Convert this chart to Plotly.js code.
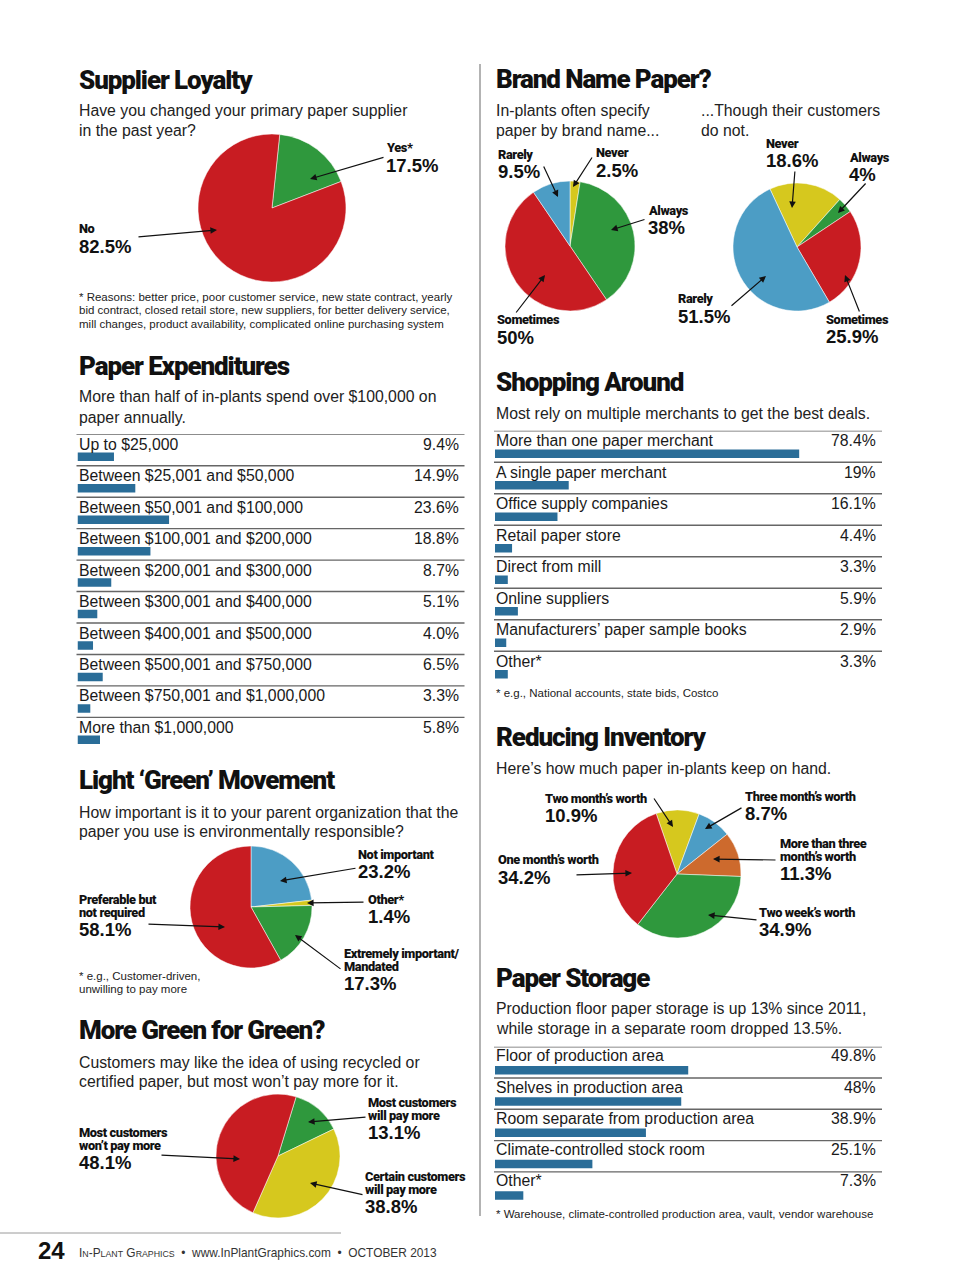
<!DOCTYPE html>
<html><head><meta charset="utf-8">
<script src="https://cdn.plot.ly/plotly-3.0.1.min.js"></script>
<style>html,body{margin:0;padding:0;background:#fff}</style>
</head><body><div id="chart" style="width:960px;height:1287px"></div>
<script>
// ---------------- DATA ----------------
const loyaltyLabels = ['Yes*', 'No'];
const loyaltyValues = [17.5, 82.5];

const brandLabels = ['Never', 'Always', 'Sometimes', 'Rarely'];
const brandInPlantValues = [2.5, 38, 50, 9.5];
const brandCustomerValues = [18.6, 4, 25.9, 51.5];

const expCategories = ['Up to $25,000', 'Between $25,001 and $50,000', 'Between $50,001 and $100,000',
  'Between $100,001 and $200,000', 'Between $200,001 and $300,000', 'Between $300,001 and $400,000',
  'Between $400,001 and $500,000', 'Between $500,001 and $750,000', 'Between $750,001 and $1,000,000',
  'More than $1,000,000'];
const expValues = [9.4, 14.9, 23.6, 18.8, 8.7, 5.1, 4.0, 6.5, 3.3, 5.8];
const expValueText = ['9.4%', '14.9%', '23.6%', '18.8%', '8.7%', '5.1%', '4.0%', '6.5%', '3.3%', '5.8%'];

const greenLabels = ['Not important', 'Other*', 'Extremely important/<br>Mandated', 'Preferable but<br>not required'];
const greenValues = [23.2, 1.4, 17.3, 58.1];

const payLabels = ['Most customers<br>will pay more', 'Certain customers<br>will pay more', 'Most customers<br>won\u2019t pay more'];
const payValues = [13.1, 38.8, 48.1];

const shopCategories = ['More than one paper merchant', 'A single paper merchant', 'Office supply companies',
  'Retail paper store', 'Direct from mill', 'Online suppliers', 'Manufacturers\u2019 paper sample books', 'Other*'];
const shopValues = [78.4, 19, 16.1, 4.4, 3.3, 5.9, 2.9, 3.3];
const shopValueText = ['78.4%', '19%', '16.1%', '4.4%', '3.3%', '5.9%', '2.9%', '3.3%'];

const invLabels = ['Two month\u2019s worth', 'Three month\u2019s worth', 'More than three<br>month\u2019s worth',
  'Two week\u2019s worth', 'One month\u2019s worth'];
const invValues = [10.9, 8.7, 11.3, 34.9, 34.2];

const storageCategories = ['Floor of production area', 'Shelves in production area',
  'Room separate from production area', 'Climate-controlled stock room', 'Other*'];
const storageValues = [49.8, 48, 38.9, 25.1, 7.3];
const storageValueText = ['49.8%', '48%', '38.9%', '25.1%', '7.3%'];

// ---------------- LAYOUT HELPERS ----------------
const W = 960, H = 1287;
const X = p => p / W;
const Y = p => 1 - p / H;

const RED = '#c81c22', GREEN = '#2f983d', BLUE = '#4c9dc5', YELLOW = '#d6c81e', ORANGE = '#cd6a2d';
const BAR = '#2a6d98';
const COND = 'Roboto, Liberation Sans, Arial, sans-serif';
const SANS = 'Liberation Sans, Arial, Helvetica, sans-serif';
const BODY = 15.8;

const traces = [];
const annotations = [];
const shapes = [];
const layout = {
  width: W, height: H, margin: {l: 0, r: 0, t: 0, b: 0},
  paper_bgcolor: '#ffffff', plot_bgcolor: 'rgba(0,0,0,0)', showlegend: false,
  annotations, shapes
};

function text(x, y, t, size, opts) {
  annotations.push(Object.assign({
    xref: 'paper', yref: 'paper', x: X(x), y: Y(y), text: t, showarrow: false,
    xanchor: 'left', yanchor: 'middle', borderpad: 0,
    font: {family: SANS, size: size, color: '#1a1a1a'}
  }, opts || {}));
}
function title(x, y, t) {
  text(x, y, '<span style="letter-spacing:-1.1px">' + t + '</span>', 26,
    {font: {family: COND, size: 26, color: '#111', weight: 900}});
}
function lines(x, y, arr, size, step) {
  arr.forEach((t, k) => text(x, y + k * step, t, size, {font: {family: SANS, size: size, color: '#222'}}));
}
function arrow(tail, head) {
  annotations.push({
    xref: 'paper', yref: 'paper', x: X(head[0]), y: Y(head[1]),
    ax: tail[0] - head[0], ay: tail[1] - head[1], text: '', showarrow: true,
    arrowhead: 2, arrowsize: 1.1, arrowwidth: 1.2, arrowcolor: '#111', standoff: 0, startstandoff: 0
  });
}
function pie(labels, values, colors, cx, cy, r, rotation, spec) {
  traces.push({
    type: 'pie', labels: labels, values: values, sort: false, direction: 'clockwise', rotation: rotation,
    marker: {colors: colors, line: {color: 'rgba(255,255,255,0.5)', width: 1}},
    textinfo: 'none', hoverinfo: 'label+value', showlegend: false,
    domain: {x: [X(cx - r), X(cx + r)], y: [Y(cy + r), Y(cy - r)]}
  });
  labels.forEach((lab, i) => {
    const s = spec[i];
    const ls = lab.split('<br>');
    ls.forEach((ln, k) => text(s[0], s[1] + k * 13.3, '<span style="letter-spacing:-0.4px">' + ln + '</span>', 12.8,
      {font: {family: COND, size: 12.8, color: '#111', weight: 900}}));
    text(s[0], s[1] + (ls.length - 1) * 13.3 + 17.5, values[i] + '%', 18.5,
      {font: {family: SANS, size: 18.5, color: '#111', weight: 'bold'}});
    arrow(s[2], s[3]);
  });
}
function barList(n, cats, vals, valText, left, top, pitch, barOff, labelOff) {
  const k = n === 1 ? '' : String(n);
  const cnt = cats.length;
  const idx = cats.map((c, i) => i);
  layout['xaxis' + k] = {domain: [X(left), X(left + 388)], range: [0, 100], anchor: 'y' + k,
    showgrid: false, zeroline: false, showticklabels: false, showline: false, ticks: '', fixedrange: true};
  layout['yaxis' + k] = {domain: [Y(top + cnt * pitch), Y(top)],
    range: [cnt - barOff / pitch, -barOff / pitch], anchor: 'x' + k,
    showgrid: false, zeroline: false, showticklabels: false, showline: false, ticks: '', fixedrange: true};
  traces.push({type: 'bar', orientation: 'h', x: vals, y: idx, xaxis: 'x' + k, yaxis: 'y' + k,
    width: 8.5 / pitch, marker: {color: BAR}, hoverinfo: 'x', showlegend: false});
  cats.forEach((c, i) => {
    annotations.push({xref: 'x' + k, yref: 'y' + k, x: 0, y: i, yshift: barOff - labelOff,
      text: c, showarrow: false, xanchor: 'left', yanchor: 'middle', borderpad: 0,
      font: {family: SANS, size: BODY, color: '#1a1a1a'}});
    annotations.push({xref: 'paper', yref: 'y' + k, x: X(left + 382), y: i, yshift: barOff - labelOff,
      text: valText[i], showarrow: false, xanchor: 'right', yanchor: 'middle', borderpad: 0,
      font: {family: SANS, size: BODY, color: '#1a1a1a'}});
    shapes.push({type: 'line', xref: 'paper', x0: X(left - 1), x1: X(left + 387),
      yref: 'y' + k, ysizemode: 'pixel', yanchor: i, y0: barOff, y1: barOff,
      line: {color: '#666', width: 1.4}});
  });
}

// ---------------- LEFT COLUMN ----------------
title(78, 80, 'Supplier Loyalty');
lines(78, 111, ['Have you changed your primary paper supplier', 'in the past year?'], BODY, 19.5);
pie(loyaltyLabels, loyaltyValues, [GREEN, RED], 272, 208, 74, 6, [
  [385, 148, [385, 157], [310, 179]],
  [78, 229, [137, 237], [217, 230]]
]);
lines(78, 296.5, ['* Reasons: better price, poor customer service, new state contract, yearly',
  'bid contract, closed retail store, new suppliers, for better delivery service,',
  'mill changes, product availability, complicated online purchasing system'], 11.5, 13.5);

title(78, 366, 'Paper Expenditures');
lines(78, 397, ['More than half of in-plants spend over $100,000 on', 'paper annually.'], BODY, 20);
barList(1, expCategories, expValues, expValueText, 77.5, 434.3, 31.45, 22.5, 10);

title(78, 780, 'Light \u2018Green\u2019 Movement');
lines(78, 812, ['How important is it to your parent organization that the',
  'paper you use is environmentally responsible?'], BODY, 19.5);
pie(greenLabels, greenValues, [BLUE, YELLOW, GREEN, RED], 251, 907, 61, 0, [
  [357, 854, [357, 868], [280, 881]],
  [367, 899, [365, 902], [307, 903]],
  [343, 953, [342, 970], [295, 935]],
  [78, 899, [147, 924], [225, 927]]
]);
lines(78, 975.5, ['* e.g., Customer-driven,', 'unwilling to pay more'], 11.5, 13.3);

title(78, 1030, 'More Green for Green?');
lines(78, 1062, ['Customers may like the idea of using recycled or',
  'certified paper, but most won\u2019t pay more for it.'], BODY, 19.5);
pie(payLabels, payValues, [GREEN, YELLOW, RED], 278, 1156, 62, 17, [
  [367, 1102, [367, 1117], [308, 1122]],
  [364, 1176, [364, 1195], [310, 1183]],
  [78, 1132, [160, 1155], [240, 1159]]
]);

// ---------------- RIGHT COLUMN ----------------
title(495, 79, 'Brand Name Paper?');
lines(495, 111, ['In-plants often specify', 'paper by brand name...'], BODY, 19.5);
lines(700, 111, ['...Though their customers', 'do not.'], BODY, 19.5);
pie(brandLabels, brandInPlantValues, [YELLOW, GREEN, RED, BLUE], 570, 246, 65, 0, [
  [595, 153, [593, 156], [573, 187]],
  [647, 210, [646, 219], [611, 230]],
  [496, 320, [515, 314], [545, 275]],
  [497, 154, [543, 165], [558, 197]]
]);
pie(brandLabels, brandCustomerValues, [YELLOW, GREEN, RED, BLUE], 797, 247, 64, -25, [
  [765, 143, [795, 170], [792, 208]],
  [848, 157, [867, 182], [838, 213]],
  [825, 319, [860, 313], [845, 275]],
  [677, 299, [730, 307], [766, 276]]
]);

title(495, 382, 'Shopping Around');
lines(495, 413, ['Most rely on multiple merchants to get the best deals.'], BODY, 19.5);
barList(2, shopCategories, shopValues, shopValueText, 495, 430.7, 31.5, 23, 10);
lines(495, 693, ['* e.g., National accounts, state bids, Costco'], 11.5, 13.3);

title(495, 737, 'Reducing Inventory');
lines(495, 768, ['Here\u2019s how much paper in-plants keep on hand.'], BODY, 19.5);
pie(invLabels, invValues, [YELLOW, BLUE, ORANGE, GREEN, RED], 677, 874, 64, -19, [
  [544, 798, [653, 797], [673, 827]],
  [744, 796, [743, 807], [705, 829]],
  [779, 843, [777, 860], [713, 859]],
  [758, 912, [758, 920], [708, 915]],
  [497, 860, [575, 875], [632, 873]]
]);

title(495, 978, 'Paper Storage');
lines(495, 1009, ['Production floor paper storage is up 13% since 2011,',
  'while storage in a separate room dropped 13.5%.'], BODY, 19.5);
barList(3, storageCategories, storageValues, storageValueText, 495, 1046.7, 31.3, 23.5, 9);
lines(495, 1214, ['* Warehouse, climate-controlled production area, vault, vendor warehouse'], 11.5, 13.3);

// ---------------- PAGE FURNITURE ----------------
shapes.push({type: 'line', xref: 'paper', yref: 'paper', x0: X(480), x1: X(480), y0: Y(64), y1: Y(1216),
  line: {color: '#9a9a9a', width: 1.5}});
shapes.push({type: 'line', xref: 'paper', yref: 'paper', x0: 0, x1: X(341), y0: Y(1233), y1: Y(1233),
  line: {color: '#9a9a9a', width: 1}});
text(37, 1250, '24', 24, {font: {family: SANS, size: 24, color: '#111', weight: 'bold'}});
const sc = s => '<span style="font-size:8.8px">' + s + '</span>';
text(78, 1253, 'I' + sc('N') + '-P' + sc('LANT') + ' G' + sc('RAPHICS') +
  '\u00a0\u00a0\u2022\u00a0\u00a0www.InPlantGraphics.com\u00a0\u00a0\u2022\u00a0\u00a0OCTOBER 2013', 11.9,
  {font: {family: SANS, size: 11.9, color: '#333'}});

Plotly.newPlot('chart', traces, layout, {displayModeBar: false, staticPlot: true});
</script>
</body></html>
